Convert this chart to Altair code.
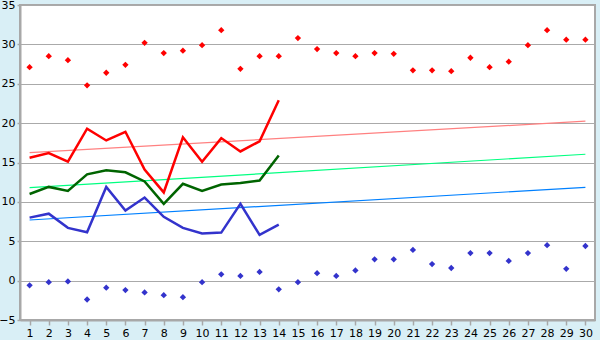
import altair as alt
import pandas as pd

days = list(range(1, 31))
max_pts = [27.1, 28.5, 28.0, 24.8, 26.4, 27.4, 30.2, 28.9, 29.2, 29.9,
           31.8, 26.9, 28.5, 28.5, 30.8, 29.4, 28.9, 28.5, 28.9, 28.8,
           26.7, 26.7, 26.6, 28.3, 27.1, 27.8, 29.9, 31.8, 30.6, 30.6]
min_pts = [-0.6, -0.2, -0.1, -2.4, -0.9, -1.2, -1.5, -1.85, -2.1, -0.2,
           0.8, 0.6, 1.1, -1.1, -0.2, 0.95, 0.6, 1.3, 2.7, 2.7,
           3.9, 2.1, 1.6, 3.5, 3.5, 2.5, 3.5, 4.5, 1.5, 4.4]
line_days = list(range(1, 15))
red_line = [15.6, 16.2, 15.1, 19.3, 17.8, 18.9, 14.1, 11.2, 18.2, 15.1, 18.1, 16.4, 17.7, 22.9]
green_line = [11.0, 11.9, 11.4, 13.5, 14.0, 13.75, 12.6, 9.75, 12.3, 11.4, 12.2, 12.4, 12.7, 15.9]
blue_line = [8.0, 8.5, 6.7, 6.15, 11.9, 8.9, 10.55, 8.1, 6.7, 6.0, 6.1, 9.75, 5.8, 7.1]
trend_days = [1, 30]
trend_red = [16.25, 20.25]
trend_green = [11.8, 16.05]
trend_blue = [7.7, 11.85]

pts = pd.DataFrame({"day": days * 2, "v": max_pts + min_pts,
                    "s": ["max"] * 30 + ["min"] * 30})
lines = pd.DataFrame({"day": line_days * 3, "v": red_line + green_line + blue_line,
                      "s": ["red"] * 14 + ["green"] * 14 + ["blue"] * 14})
trends = pd.DataFrame({"day": trend_days * 3, "v": trend_red + trend_green + trend_blue,
                       "s": ["tr"] * 2 + ["tg"] * 2 + ["tb"] * 2})

xs = alt.Scale(domain=[0.5, 30.5], nice=False, zero=False)
ys = alt.Scale(domain=[-5, 35], nice=False, zero=False)
X = alt.X("day:Q", scale=xs, axis=alt.Axis(values=days, title=None, grid=False,
          tickSize=5, labelPadding=2, labelFlush=False))
Y = alt.Y("v:Q", scale=ys, axis=alt.Axis(values=list(range(-5, 36, 5)), title=None,
          grid=True, tickSize=3, labelPadding=2))

trend = alt.Chart(trends).mark_line(strokeWidth=1.2).encode(
    x=X, y=Y, detail="s:N",
    color=alt.Color("s:N", scale=alt.Scale(domain=["tr", "tg", "tb"],
                    range=["#ff8080", "#00ff80", "#0080ff"]), legend=None))
line = alt.Chart(lines).mark_line(strokeWidth=2.5).encode(
    x=X, y=Y, detail="s:N",
    color=alt.Color("s:N", scale=alt.Scale(domain=["red", "green", "blue"],
                    range=["#ff0000", "#006400", "#3333cc"]), legend=None))
points = alt.Chart(pts).mark_point(shape="diamond", filled=True, size=40, opacity=1).encode(
    x=X, y=Y,
    color=alt.Color("s:N", scale=alt.Scale(domain=["max", "min"],
                    range=["#ff0000", "#3333cc"]), legend=None))

chart = alt.layer(trend, line, points).resolve_scale(color="independent").properties(
    width=575, height=315,
    autosize=alt.AutoSizeParams(type="none"),
    padding={"left": 20, "top": 5, "right": 5, "bottom": 20},
    background="#d9eff6",
).configure_view(
    fill="white", stroke="#a8a8a8", strokeWidth=2
).configure_axis(
    labelFont="DejaVu Sans", labelFontSize=11, labelColor="black",
    domainColor="#a8a8a8", domainWidth=2, tickColor="#a8a8a8", tickWidth=1.5,
    gridColor="#aaaaaa", gridWidth=1
)

chart.save("out.html", embed_options={"renderer": "svg", "actions": False})
